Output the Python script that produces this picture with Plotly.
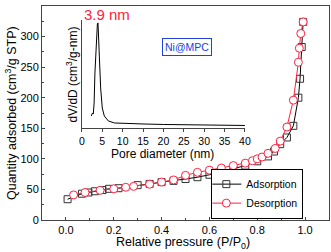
import plotly.graph_objects as go

# Main isotherm data
p_ads = [0.007, 0.067, 0.094, 0.121, 0.153, 0.18, 0.22, 0.30, 0.35, 0.40, 0.45, 0.50, 0.55,
         0.60, 0.65, 0.70, 0.75, 0.80, 0.845, 0.87, 0.896, 0.924, 0.951, 0.972, 0.979, 0.986, 0.992]
q_ads = [34, 43, 45, 47, 49, 51, 52, 57, 59, 62, 64, 67, 70,
         74, 78, 84, 89, 96, 104, 112, 124, 135, 154, 200, 231, 283, 324]

p_des = [0.032, 0.08, 0.143, 0.20, 0.25, 0.283, 0.35, 0.40, 0.45, 0.50, 0.55, 0.60, 0.65,
         0.70, 0.75, 0.78, 0.80, 0.82, 0.845, 0.875, 0.896, 0.924, 0.951, 0.972, 0.976, 0.982, 0.992]
q_des = [41, 45, 48.5, 51, 53.5, 55, 58.5, 62, 65.5, 73, 78, 81.5, 85,
         89, 93, 97, 100, 103, 109, 117, 129, 152, 196, 258, 281, 305, 324]

# Inset pore size distribution (arbitrary units)
pore_d = [2.3, 2.6, 2.8, 3.0, 3.2, 3.5, 3.8, 3.95, 4.1, 4.3, 4.6, 5.0, 5.5, 6.5, 8, 10,
          15, 20, 25, 30, 35, 40]
dvdd = [12, 15, 14, 25, 55, 90, 104, 105, 95, 70, 40, 20, 12, 7, 5, 4.5,
        4, 3.5, 3.3, 3, 2.8, 2.5]

main_ticks = [0, 50, 100, 150, 200, 250, 300, 350]
x_ticks = [0.0, 0.2, 0.4, 0.6, 0.8, 1.0]
inset_ticks = [0, 5, 10, 15, 20, 25, 30, 35, 40]

FONT = "Liberation Sans, Arial, sans-serif"
RED = "#ff2040"

fig = go.Figure()
fig.add_trace(go.Scatter(x=p_ads, y=q_ads, mode="lines+markers", name="Adsorption",
                         line=dict(color="black", width=1),
                         marker=dict(symbol="square-open", size=7, color="#333333",
                                     line=dict(width=1))))
fig.add_trace(go.Scatter(x=p_des, y=q_des, mode="lines+markers", name="Desorption",
                         line=dict(color=RED, width=1),
                         marker=dict(symbol="circle", size=8, color="white",
                                     line=dict(width=1, color=RED))))
fig.add_trace(go.Scatter(x=pore_d, y=dvdd, mode="lines", showlegend=False,
                         xaxis="x2", yaxis="y2",
                         line=dict(color="black", width=1)))

fig.update_layout(
    width=331, height=252,
    margin=dict(l=42, r=2, t=6, b=32, autoexpand=False),
    paper_bgcolor="white", plot_bgcolor="white",
    font=dict(family=FONT, size=11, color="black"),
    xaxis=dict(range=[-0.1, 1.1], tickvals=x_ticks, ticktext=[f"{v:.1f}" for v in x_ticks],
               showline=True, linecolor="#444", linewidth=1, mirror=True,
               ticks="inside", ticklen=3, tickcolor="#444", showgrid=False, zeroline=False,
               minor=dict(dtick=0.1, ticks="inside", ticklen=2, tickcolor="#444")),
    yaxis=dict(range=[0, 350], tickvals=main_ticks, showline=True, linecolor="#444",
               linewidth=1, mirror=True, ticks="inside", ticklen=3, tickcolor="#444",
               showgrid=False, zeroline=False,
               minor=dict(dtick=25, ticks="inside", ticklen=2, tickcolor="#444")),
    xaxis2=dict(domain=[0.139, 0.707], anchor="y2", range=[0, 40], tickvals=inset_ticks,
                showline=True, linecolor="#444", linewidth=1, ticks="outside", ticklen=3,
                tickcolor="#444", showgrid=False, zeroline=False, tickfont=dict(size=10.5)),
    yaxis2=dict(domain=[0.43, 0.935], anchor="x2", range=[0, 108], showline=True,
                linecolor="#444", linewidth=1, showticklabels=False, ticks="",
                showgrid=False, zeroline=False),
    legend=dict(x=0.59, y=0.24, xanchor="left", yanchor="top",
                bordercolor="black", borderwidth=1, bgcolor="white",
                font=dict(size=10.5), tracegroupgap=0, itemwidth=30,
                indentation=-6),
    showlegend=True,
)

fig.add_annotation(text="Quantity adsorbed (cm<sup>3</sup>/g STP)", xref="paper", yref="paper",
                   x=-0.108, y=0.5, xanchor="center", yanchor="middle", textangle=-90,
                   showarrow=False, font=dict(size=12.5))
fig.add_annotation(text="Relative pressure (P/P<sub>0</sub>)", xref="paper", yref="paper",
                   x=0.49, y=-0.107, xanchor="center", yanchor="middle",
                   showarrow=False, font=dict(size=12.5))
fig.add_annotation(text="dV/dD (cm<sup>3</sup>/g-nm)", xref="paper", yref="paper",
                   x=0.105, y=0.68, xanchor="center", yanchor="middle", textangle=-90,
                   showarrow=False, font=dict(size=12))
fig.add_annotation(text="Pore diameter (nm)", xref="paper", yref="paper",
                   x=0.42, y=0.31, xanchor="center", yanchor="middle",
                   showarrow=False, font=dict(size=12))
fig.add_annotation(text="3.9 nm", xref="paper", yref="paper",
                   x=0.227, y=0.958, xanchor="center", yanchor="middle",
                   showarrow=False, font=dict(size=15, color=RED))
fig.add_annotation(text="Ni@MPC", xref="paper", yref="paper",
                   x=0.505, y=0.808, xanchor="center", yanchor="middle",
                   showarrow=False, font=dict(size=10.5, color="#2040e0"),
                   bordercolor="#2040e0", borderwidth=1, borderpad=2, bgcolor="white")

fig.write_html("out.html", post_script="document.body.style.margin='0';",
               config={"displayModeBar": False})
